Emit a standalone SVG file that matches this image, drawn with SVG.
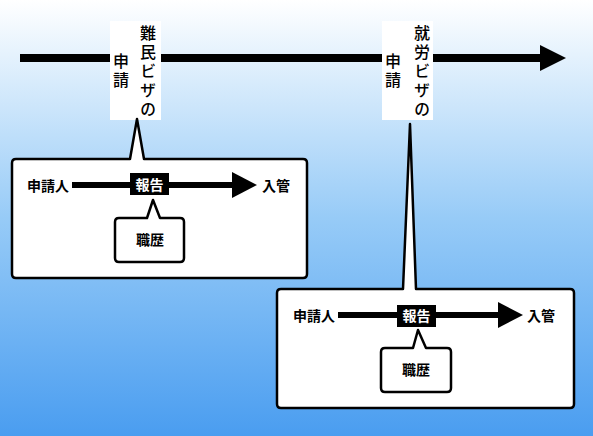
<svg xmlns="http://www.w3.org/2000/svg" width="593" height="436" viewBox="0 0 593 436">
<defs>
<linearGradient id="bg" x1="0" y1="0" x2="0" y2="1">
<stop offset="0" stop-color="#ffffff"/>
<stop offset="0.5" stop-color="#97cbf7"/>
<stop offset="1" stop-color="#4a9df0"/>
</linearGradient>
<style>
text{font-family:"Noto Sans CJK JP","Noto Sans CJK SC",sans-serif;fill:#000}
.v{font-size:16px;font-weight:500;writing-mode:vertical-rl;letter-spacing:3px}
.b{font-size:14px;font-weight:bold;dominant-baseline:central}
.w{font-size:14px;font-weight:bold;fill:#fff;text-anchor:middle;dominant-baseline:central}
.box{fill:#fff;stroke:#000;stroke-width:2.5;stroke-linejoin:round}
.lbl{fill:#fff}
</style>
</defs>
<rect width="593" height="436" fill="url(#bg)"/>
<g id="connectors">
<rect x="20" y="54" width="522" height="8" fill="#000"/>
<polygon points="540,45 566,58 540,71" fill="#000"/>
</g>
<g id="label1">
<rect class="lbl" x="110" y="21" width="51" height="99"/>
<text class="v" x="148" y="25">難民ビザの</text>
<text class="v" x="121" y="53">申請</text>
</g>
<g id="label2">
<rect class="lbl" x="382" y="21" width="51" height="99"/>
<text class="v" x="422" y="25">就労ビザの</text>
<text class="v" x="393" y="53">申請</text>
</g>
<g id="callout1">
<path class="box" d="M16,159 H130 L137,119 L144,159 H303 Q307,159 307,163 V274 Q307,278 303,278 H16 Q12,278 12,274 V163 Q12,159 16,159 Z"/>
<text class="b" x="27" y="185">申請人</text>
<rect x="72" y="182" width="162" height="6" fill="#000"/>
<polygon points="232,172 257,185 232,198" fill="#000"/>
<text class="b" x="262" y="185">入管</text>
<rect x="130" y="173" width="39" height="22" fill="#000"/>
<text class="w" x="149.5" y="184">報告</text>
<path class="box" d="M119,218 H147 L153,200 L160,218 H180 Q184,218 184,222 V258 Q184,262 180,262 H119 Q115,262 115,258 V222 Q115,218 119,218 Z"/>
<text class="b" x="150" y="239" text-anchor="middle">職歴</text>
</g>
<g id="callout2">
<path class="box" d="M281,289 H403 L410,124 L416,289 H570 Q574,289 574,293 V404 Q574,408 570,408 H281 Q277,408 277,404 V293 Q277,289 281,289 Z"/>
<text class="b" x="293" y="315">申請人</text>
<rect x="338" y="312" width="162" height="6" fill="#000"/>
<polygon points="498,302 523,315 498,328" fill="#000"/>
<text class="b" x="527" y="315">入管</text>
<rect x="397" y="305" width="39" height="22" fill="#000"/>
<text class="w" x="416.5" y="315">報告</text>
<path class="box" d="M385,348 H413 L418,330 L426,348 H447 Q451,348 451,352 V388 Q451,392 447,392 H385 Q381,392 381,388 V352 Q381,348 385,348 Z"/>
<text class="b" x="416" y="369" text-anchor="middle">職歴</text>
</g>
</svg>
